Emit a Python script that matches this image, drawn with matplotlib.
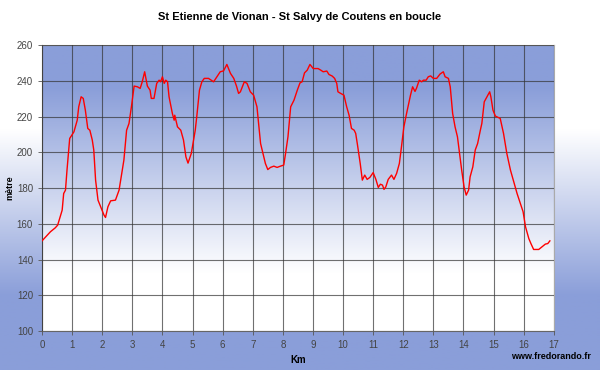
import numpy as np
import matplotlib.pyplot as plt
from matplotlib.colors import LinearSegmentedColormap

# Elevation profile (km, metres)
km = [0.0, 0.28, 0.44, 0.52, 0.67, 0.72, 0.78, 0.83, 0.92, 1.06, 1.17, 1.22, 1.30, 1.37,
      1.44, 1.52, 1.59, 1.67, 1.72, 1.78, 1.86, 1.97, 2.06, 2.11, 2.19, 2.28, 2.44, 2.56,
      2.63, 2.72, 2.81, 2.89, 2.97, 3.06, 3.17, 3.26, 3.33, 3.41, 3.50, 3.59, 3.63, 3.72,
      3.81, 3.89, 3.94, 4.00, 4.06, 4.11, 4.17, 4.22, 4.33, 4.39, 4.41, 4.50, 4.61, 4.70,
      4.78, 4.85, 4.96, 5.09, 5.14, 5.23, 5.31, 5.39, 5.53, 5.70, 5.81, 5.92, 6.03, 6.14,
      6.26, 6.37, 6.46, 6.53, 6.59, 6.72, 6.81, 6.92, 7.03, 7.14, 7.26, 7.34, 7.42, 7.50,
      7.59, 7.70, 7.81, 7.92, 8.03, 8.09, 8.17, 8.26, 8.37, 8.48, 8.57, 8.64, 8.72, 8.81,
      8.90, 9.01, 9.17, 9.26, 9.34, 9.46, 9.53, 9.64, 9.72, 9.79, 9.83, 9.92, 10.03, 10.12,
      10.20, 10.28, 10.37, 10.42, 10.48, 10.57, 10.64, 10.72, 10.80, 10.89, 11.00, 11.09,
      11.17, 11.24, 11.31, 11.36, 11.42, 11.50, 11.61, 11.69, 11.78, 11.87, 11.94, 12.02,
      12.11, 12.17, 12.24, 12.31, 12.39, 12.44, 12.53, 12.61, 12.67, 12.76, 12.83, 12.91,
      13.00, 13.11, 13.22, 13.33, 13.39, 13.50, 13.56, 13.64, 13.72, 13.80, 13.87, 13.94,
      14.02, 14.09, 14.17, 14.22, 14.31, 14.39, 14.47, 14.56, 14.61, 14.69, 14.78, 14.87,
      14.91, 14.98, 15.06, 15.22, 15.33, 15.44, 15.56, 15.67, 15.78, 15.89, 15.98, 16.06,
      16.17, 16.24, 16.33, 16.50, 16.61, 16.72, 16.80, 16.87]
alt = [150.5, 155.6, 157.8, 159.3, 167.7, 177.0, 178.9, 190.0, 207.8, 211.5, 218.0, 225.5,
       231.1, 230.2, 223.6, 213.4, 212.4, 206.9, 201.3, 184.5, 173.3, 168.6, 164.9, 163.6,
       169.6, 172.9, 173.3, 178.9, 186.3, 195.7, 212.4, 216.2, 225.5, 237.1, 236.7, 235.8,
       239.5, 245.1, 237.1, 234.8, 230.2, 230.2, 238.6, 240.4, 239.5, 242.3, 238.6, 240.4,
       239.5, 231.1, 221.8, 218.0, 220.8, 214.3, 212.4, 206.9, 197.5, 194.0, 199.5, 212.4,
       219.9, 234.8, 239.5, 241.4, 241.4, 239.5, 242.3, 245.1, 245.6, 249.2, 244.2, 241.4,
       237.1, 233.0, 233.9, 239.5, 238.6, 233.9, 232.0, 225.5, 205.0, 199.4, 193.8, 190.4,
       191.6, 192.3, 191.6, 192.3, 192.9, 199.4, 208.7, 225.5, 229.2, 234.8, 238.9, 239.5,
       244.5, 246.0, 249.2, 246.9, 246.9, 246.0, 245.1, 245.5, 243.6, 242.7, 241.4, 238.6,
       233.9, 233.0, 232.0, 225.5, 220.8, 213.4, 212.4, 210.6, 204.1, 193.8, 184.5, 187.3,
       184.9, 186.0, 188.7, 184.9, 180.4, 182.2, 181.7, 179.3, 180.7, 184.9, 187.3, 184.9,
       188.3, 193.8, 203.1, 214.3, 221.8, 226.4, 232.0, 236.7, 234.1, 235.9, 240.4, 239.5,
       240.4, 240.4, 242.3, 242.8, 241.4, 241.4, 243.8, 245.1, 242.3, 241.4, 236.7, 221.8,
       214.3, 208.7, 199.4, 190.1, 180.7, 176.1, 178.9, 186.3, 191.9, 201.3, 205.0, 212.4,
       216.2, 228.3, 231.1, 233.9, 231.1, 223.6, 220.3, 219.0, 210.6, 199.4, 190.1, 183.5,
       177.0, 171.4, 166.8, 158.4, 151.8, 149.0, 145.7, 145.7, 147.2, 148.7, 149.0, 150.5]

x_ticks = list(range(0, 18))
y_ticks = list(range(100, 261, 20))

blue = '#8a9ed9'
plt.rcParams['font.family'] = ['Liberation Sans', 'DejaVu Sans']

fig = plt.figure(figsize=(6, 3.7), dpi=100)

# figure background: white at top, blue at bottom
bg = fig.add_axes([0, 0, 1, 1], zorder=-10)
bg_cmap = LinearSegmentedColormap.from_list('bg', [(0, blue), (0.2, blue), (0.65, 'white'), (1, 'white')])
bg.imshow(np.linspace(0, 1, 256).reshape(-1, 1), cmap=bg_cmap, aspect='auto',
          extent=[0, 1, 0, 1], origin='lower')
bg.axis('off')

ax = fig.add_axes([0.07, 0.105, 0.853, 0.773])

# plot area: blue at top, fading to white
pa_cmap = LinearSegmentedColormap.from_list('pa', [(0, 'white'), (0.2, 'white'), (0.85, blue), (1, blue)])
ax.imshow(np.linspace(0, 1, 256).reshape(-1, 1), cmap=pa_cmap, aspect='auto',
          extent=[0, 17, 100, 260], origin='lower', zorder=0)

ax.plot(km, alt, color='red', linewidth=1, zorder=3)

ax.set_xlim(0, 17)
ax.set_ylim(100, 260)
ax.set_xticks(x_ticks)
ax.set_yticks(y_ticks)
ax.grid(True, color='#333333', linewidth=0.8, alpha=0.7, zorder=1)
ax.set_axisbelow(False)
ax.tick_params(labelsize=7, colors='#555555', length=3, width=0.6, labelcolor='#444444')
for s in ['top', 'right']:
    ax.spines[s].set_color('#aaaaaa')
for s in ['left', 'bottom']:
    ax.spines[s].set_color('#666666')

ax.set_xlabel('Km', fontsize=7, fontweight='bold')
ax.xaxis.set_label_coords(0.5, -0.085)
ax.set_ylabel('mètre', fontsize=6.5, fontweight='bold')
ax.yaxis.set_label_coords(-0.053, 0.5)
fig.text(0.5, 0.953, 'St Etienne de Vionan - St Salvy de Coutens en boucle',
         ha='center', va='center', fontsize=8, fontweight='bold')
fig.text(0.985, 0.037, 'www.fredorando.fr', ha='right', va='center',
         fontsize=6.5, fontweight='bold')

fig.savefig('out.png', dpi=100)
